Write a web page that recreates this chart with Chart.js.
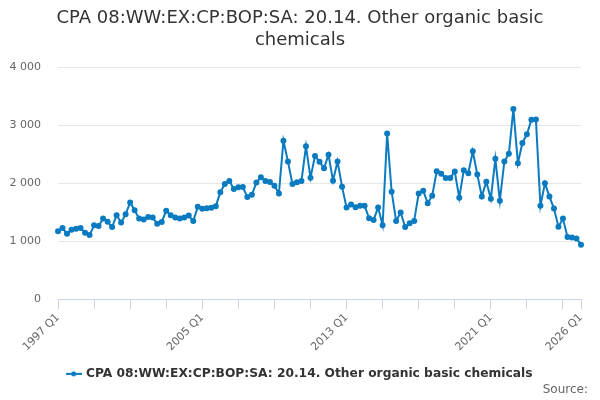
<!DOCTYPE html>
<html>
<head>
<meta charset="utf-8">
<script src="https://cdn.jsdelivr.net/npm/chart.js@4"></script>
<style>
html,body{margin:0;padding:0;background:#fff;}
#wrap{width:600px;height:400px;}
</style>
</head>
<body>
<div id="wrap"><canvas id="c" width="600" height="400"></canvas></div>
<script>
const seriesName = 'CPA 08:WW:EX:CP:BOP:SA: 20.14. Other organic basic chemicals';
const titleLines = ['CPA 08:WW:EX:CP:BOP:SA: 20.14. Other organic basic', 'chemicals'];
const sourceText = 'Source:';
const startYear = 1997, endYear = 2026;
const quarters = [];
for (let y = startYear; y <= endYear; y++) {
  for (let q = 1; q <= 4; q++) {
    if (y === endYear && q > 1) break;
    quarters.push(y + ' Q' + q);
  }
}
const values = [
  1168,1226,1128,1197,1214,1226,1145,1104,1272,1261,
  1388,1336,1243,1446,1319,1464,1667,1533,1388,1371,
  1417,1406,1301,1330,1522,1446,1406,1390,1406,1440,
  1348,1591,1557,1568,1574,1603,1841,1986,2038,1899,
  1928,1933,1759,1800,2009,2101,2038,2020,1957,1823,
  2733,2374,1986,2014,2038,2635,2095,2467,2370,2258,
  2490,2043,2374,1939,1580,1632,1586,1609,1609,1394,
  1365,1580,1272,2855,1852,1348,1493,1243,1307,1348,
  1823,1870,1655,1783,2206,2162,2087,2087,2200,1748,
  2223,2171,2548,2148,1771,2026,1730,2420,1696,2374,
  2507,3278,2345,2693,2843,3093,3099,1609,1997,1771,
  1562,1249,1388,1070,1064,1046,936
];
const shownLabels = ['1997 Q1','2005 Q1','2013 Q1','2021 Q1','2026 Q1'];
const yTicks = [0,1000,2000,3000,4000];

const lineColor = '#0a7bc1';

// legend symbol: line with dot
const sym = document.createElement('canvas');
sym.width = 16; sym.height = 8;
const sc = sym.getContext('2d');
sc.strokeStyle = lineColor; sc.lineWidth = 2;
sc.beginPath(); sc.moveTo(0,4); sc.lineTo(16,4); sc.stroke();
sc.fillStyle = lineColor; sc.beginPath(); sc.arc(8,4,2.5,0,Math.PI*2); sc.fill();

const fmt = v => String(v).replace(/\B(?=(\d{3})+(?!\d))/g, ' ');

const sourcePlugin = {
  id: 'sourceText',
  afterDraw(chart) {
    const ctx = chart.ctx;
    ctx.save();
    ctx.font = '12px "DejaVu Sans"';
    ctx.fillStyle = '#666666';
    ctx.textAlign = 'right';
    ctx.textBaseline = 'middle';
    ctx.fillText(sourceText, 588, 390);
    ctx.restore();
  }
};

new Chart(document.getElementById('c'), {
  type: 'line',
  data: {
    labels: quarters,
    datasets: [{
      label: seriesName,
      data: values,
      borderColor: lineColor,
      backgroundColor: lineColor,
      borderWidth: 2,
      pointRadius: 2,
      pointHoverRadius: 3,
      pointStyle: 'circle',
      tension: 0,
      fill: false
    }]
  },
  plugins: [sourcePlugin],
  options: {
    responsive: false,
    animation: false,
    devicePixelRatio: 1,
    layout: { padding: { left: 0, right: 0, top: 4, bottom: 10 } },
    plugins: {
      title: {
        display: true,
        text: titleLines,
        color: '#333333',
        font: { family: 'DejaVu Sans', size: 18, weight: 'normal', lineHeight: 1.2 },
        padding: { top: 4, bottom: 16 }
      },
      legend: {
        display: true,
        position: 'bottom',
        labels: {
          usePointStyle: true,
          pointStyle: sym,
          color: '#333333',
          font: { family: 'DejaVu Sans', size: 12.25, weight: 'bold' },
          padding: 4,
          boxWidth: 16
        }
      },
      tooltip: { enabled: false }
    },
    scales: {
      x: {
        type: 'category',
        offset: false,
        border: { display: true, color: '#ccd6eb', width: 1 },
        grid: {
          drawOnChartArea: false,
          drawTicks: true,
          tickLength: 10,
          tickColor: ctx => (ctx.index % 8 === 0 || ctx.index === quarters.length - 1) ? '#ccd6eb' : 'rgba(0,0,0,0)'
        },
        ticks: {
          autoSkip: false,
          maxRotation: 45,
          minRotation: 45,
          color: '#666666',
          font: { family: 'DejaVu Sans', size: 11 },
          padding: 2,
          callback: function(val, idx) {
            const l = quarters[idx];
            return shownLabels.includes(l) ? l : '';
          }
        },
        afterFit: scale => {
          scale.paddingLeft = 0;
          scale.paddingRight = 19;
          scale.height += 8;
        }
      },
      y: {
        min: 0,
        max: 4000,
        border: { display: false },
        grid: { color: '#e6e6e6', drawTicks: false, lineWidth: 1 },
        afterBuildTicks: axis => { axis.ticks = yTicks.map(v => ({ value: v })); },
        ticks: {
          color: '#666666',
          font: { family: 'DejaVu Sans', size: 11 },
          padding: 17,
          callback: v => fmt(v)
        },
        afterFit: scale => { scale.width = 58; }
      }
    }
  }
});
</script>
</body>
</html>
